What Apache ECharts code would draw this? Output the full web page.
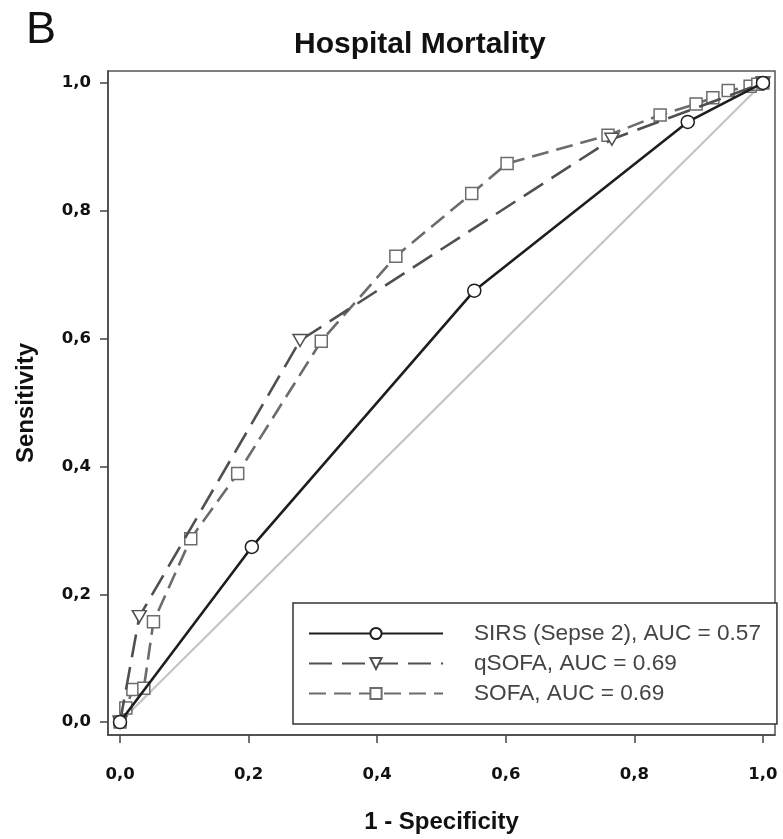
<!DOCTYPE html>
<html>
<head>
<meta charset="utf-8">
<script src="https://cdn.jsdelivr.net/npm/echarts@6/dist/echarts.min.js"></script>
<style>
  html, body { margin: 0; padding: 0; background: #fff; }
  #chart { width: 783px; height: 839px; }
</style>
</head>
<body>
<div id="chart"></div>
<script>
// ---- data ----
const panelLabel = 'B';
const chartTitle = 'Hospital Mortality';
const xAxisTitle = '1 - Specificity';
const yAxisTitle = 'Sensitivity';
const tickValues = [0, 0.2, 0.4, 0.6, 0.8, 1.0];
const tickLabels = ['0,0', '0,2', '0,4', '0,6', '0,8', '1,0'];

const sirsName = 'SIRS (Sepse 2), AUC = 0.57';
const sirsX = [0, 0.205, 0.551, 0.883, 1.0];
const sirsY = [0, 0.274, 0.675, 0.939, 1.0];

const qsofaName = 'qSOFA, AUC = 0.69';
const qsofaX = [0, 0.03, 0.28, 0.765, 1.0];
const qsofaY = [0, 0.165, 0.597, 0.912, 1.0];

const sofaName = 'SOFA, AUC = 0.69';
const sofaX = [0, 0.009, 0.02, 0.037, 0.052, 0.11, 0.183, 0.313, 0.429, 0.547, 0.602, 0.759, 0.840, 0.896, 0.922, 0.946, 0.980, 0.992, 1.0];
const sofaY = [0, 0.022, 0.051, 0.053, 0.157, 0.287, 0.389, 0.596, 0.729, 0.827, 0.874, 0.918, 0.950, 0.967, 0.977, 0.988, 0.995, 0.998, 1.0];

const refX = [0, 1];
const refY = [0, 1];

function zip(xs, ys) { return xs.map((x, i) => [x, ys[i]]); }
const labelFor = v => {
  const i = tickValues.findIndex(t => Math.abs(t - v) < 1e-6);
  return i >= 0 ? tickLabels[i] : '';
};

const chart = echarts.init(document.getElementById('chart'), null, { renderer: 'canvas' });

const axisCommon = {
  type: 'value',
  splitLine: { show: false },
  axisLine: { show: true, onZero: false, lineStyle: { color: '#444', width: 1.5 } },
  axisTick: { show: true, customValues: tickValues, length: 8, lineStyle: { color: '#444', width: 1.5 } },
  axisLabel: {
    customValues: tickValues,
    formatter: labelFor,
    color: '#111',
    fontFamily: 'DejaVu Sans',
    fontWeight: 'bold',
    fontSize: 16.5
  },
  nameLocation: 'middle',
  nameTextStyle: { fontFamily: 'Liberation Sans', fontWeight: 'bold', fontSize: 24, color: '#111' }
};

chart.setOption({
  animation: false,
  backgroundColor: '#fff',
  title: [
    { text: panelLabel, left: 21, top: 3,
      textStyle: { fontFamily: 'Liberation Sans', fontWeight: 'normal', fontSize: 45, color: '#111' } },
    { text: chartTitle, left: 289, top: 25,
      textStyle: { fontFamily: 'Liberation Sans', fontWeight: 'bold', fontSize: 30, color: '#111' } }
  ],
  grid: {
    left: 108, right: 8, top: 71, bottom: 100,
    show: true, borderColor: '#555', borderWidth: 1.5, backgroundColor: '#fff'
  },
  xAxis: Object.assign({}, axisCommon, {
    min: -0.0187, max: 1.0187,
    name: xAxisTitle, nameGap: 75,
    axisLabel: Object.assign({}, axisCommon.axisLabel, { margin: 31 })
  }),
  yAxis: Object.assign({}, axisCommon, {
    min: -0.0202, max: 1.0187,
    name: yAxisTitle, nameGap: 70,
    axisLabel: Object.assign({}, axisCommon.axisLabel, { margin: 17 })
  }),
  legend: {
    data: [sirsName, qsofaName, sofaName],
    orient: 'vertical',
    left: 293, top: 603,
    padding: [19, 16, 19, 15],
    itemGap: 7,
    itemWidth: 134,
    itemHeight: 14,
    selectedMode: false,
    borderColor: '#333', borderWidth: 1.5, backgroundColor: '#fff',
    textStyle: { fontFamily: 'Liberation Sans', fontSize: 22.6, color: '#444', padding: [0, 0, 0, 26], lineHeight: 22 }
  },
  series: [
    {
      name: 'reference', type: 'line', data: zip(refX, refY),
      symbol: 'none', silent: true, z: 1,
      lineStyle: { color: '#c4c4c4', width: 2.2 }
    },
    {
      name: sirsName, type: 'line', data: zip(sirsX, sirsY), z: 4,
      symbol: 'circle', symbolSize: 13, showAllSymbol: true,
      lineStyle: { color: '#1e1e1e', width: 2.6 },
      itemStyle: { color: '#fff', borderColor: '#1e1e1e', borderWidth: 1.5 }
    },
    {
      name: qsofaName, type: 'line', data: zip(qsofaX, qsofaY), z: 3,
      symbol: 'triangle', symbolRotate: 180, symbolSize: [14, 12], showAllSymbol: true,
      lineStyle: { color: '#505050', width: 2.6, type: [23, 10] },
      itemStyle: { color: '#fff', borderColor: '#505050', borderWidth: 1.5 }
    },
    {
      name: sofaName, type: 'line', data: zip(sofaX, sofaY), z: 2,
      symbol: 'rect', symbolSize: 12, showAllSymbol: true,
      lineStyle: { color: '#6c6c6c', width: 2.6, type: [17, 8] },
      itemStyle: { color: '#fff', borderColor: '#6c6c6c', borderWidth: 1.5 }
    }
  ]
});
</script>
</body>
</html>
